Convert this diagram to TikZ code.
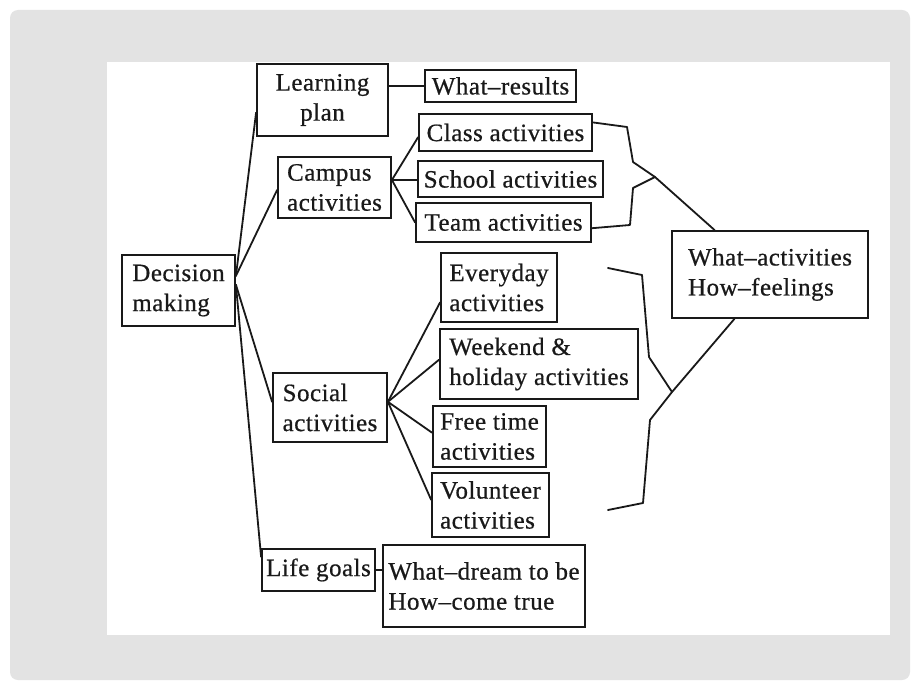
\documentclass[tikz,border=0pt]{standalone}
\usepackage{fontspec}
\setmainfont{Liberation Serif}[LetterSpace=2,FakeBold=0.6]
\usetikzlibrary{calc}
\definecolor{bggray}{RGB}{227,227,227}
\definecolor{ink}{RGB}{25,25,25}
\begin{document}
\begin{tikzpicture}[x=1pt,y=-1pt,
  box/.style={draw=ink, line width=1.8pt, text=ink, font=\fontsize{25}{30}\selectfont,
    align=left, inner sep=2pt},
  conn/.style={draw=ink, line width=1.8pt, line join=round, line cap=round}]
\useasboundingbox (0,0) rectangle (920,690);
\fill[white] (0,0) rectangle (920,690);
\fill[bggray, rounded corners=8pt] (10,10) rectangle (910,680);
\fill[white] (107,62) rectangle (890,635);

% nodes
\node[box, align=center, minimum width=131pt, minimum height=72pt] (lp) at (322.5,100) {Learning\\plan};
\node[box, minimum width=151pt, minimum height=32pt] (wr) at (500.5,86) {What--results};
\node[box, minimum width=113pt, minimum height=61pt] (ca) at (334.5,187.5) {Campus\\activities};
\node[box, minimum width=173pt, minimum height=37pt] (cl) at (505.5,132.5) {Class activities};
\node[box, minimum width=185pt, minimum height=36pt] (sc) at (510.5,179) {School activities};
\node[box, minimum width=175pt, minimum height=39pt] (te) at (503.5,222.5) {Team activities};
\node[box, minimum width=113pt, minimum height=71pt] (dm) at (178.5,290.5) {Decision\\making};
\node[box, minimum width=114pt, minimum height=69pt] (so) at (330,407.5) {Social\\activities};
\node[box, minimum width=116pt, minimum height=69pt] (ev) at (499,287.5) {Everyday\\activities};
\node[box, minimum width=198pt, minimum height=70pt] (we) at (539,364) {Weekend \&\\holiday activities};
\node[box, minimum width=113pt, minimum height=61pt] (fr) at (489.5,436.5) {Free time\\activities};
\node[box, minimum width=117pt, minimum height=64pt] (vo) at (490.5,505) {Volunteer\\activities};
\node[box, minimum width=113pt, minimum height=42pt] (lg) at (318.5,570) {Life goals};
\node[box, minimum width=202pt, minimum height=82pt] (wd) at (484,586) {What--dream to be\\How--come true};
\node[box, minimum width=196pt, minimum height=87pt] (wa) at (770,274.5) {What--activities\\How--feelings};

% main tree
\coordinate (dmU) at ($(dm.north east)!0.30!(dm.south east)$);
\coordinate (dmL) at ($(dm.north east)!0.42!(dm.south east)$);
\draw[conn] (dmU) -- ($(lp.north west)!0.67!(lp.south west)$);
\draw[conn] (dmU) -- ($(ca.north west)!0.54!(ca.south west)$);
\draw[conn] (dmL) -- ($(so.north west)!0.42!(so.south west)$);
\draw[conn] (dmL) -- ($(lg.north west)!0.2!(lg.south west)$);

\draw[conn] (wr.west) -- (wr.west -| lp.east);
\draw[conn] (lg.east) -- (lg.east -| wd.west);

\coordinate (caR) at ($(ca.north east)!0.38!(ca.south east)$);
\draw[conn] (caR) -- ($(cl.north west)!0.62!(cl.south west)$);
\draw[conn] (caR) -- (caR -| sc.west);
\draw[conn] (caR) -- (te.west);

\coordinate (soR) at ($(so.north east)!0.42!(so.south east)$);
\draw[conn] (soR) -- ($(ev.north west)!0.71!(ev.south west)$);
\draw[conn] (soR) -- ($(we.north west)!0.44!(we.south west)$);
\draw[conn] (soR) -- ($(fr.north west)!0.44!(fr.south west)$);
\draw[conn] (soR) -- ($(vo.north west)!0.42!(vo.south west)$);

% top brace
\coordinate (tb1) at (627,127);
\coordinate (tb2) at (633,162);
\coordinate (tbT) at (655,177);
\coordinate (tb3) at (633,188);
\coordinate (tb4) at (630,225);
\draw[conn] ($(cl.north east)!0.24!(cl.south east)$) -- (tb1) -- (tb2) -- (tbT) -- (tb3) -- (tb4) -- ($(te.north east)!0.64!(te.south east)$);
\draw[conn] (tbT) -- ($(wa.north west)!0.22!(wa.north east)$);

% bottom brace
\coordinate (bb0) at (608,268);
\coordinate (bb1) at (642,275);
\coordinate (bb2) at (649,357);
\coordinate (bbT) at (672,392);
\coordinate (bb3) at (650,420);
\coordinate (bb4) at (643,503);
\coordinate (bb5) at (608,510);
\draw[conn] (bb0) -- (bb1) -- (bb2) -- (bbT) -- (bb3) -- (bb4) -- (bb5);
\draw[conn] (bbT) -- ($(wa.south west)!0.32!(wa.south east)$);
\end{tikzpicture}
\end{document}
